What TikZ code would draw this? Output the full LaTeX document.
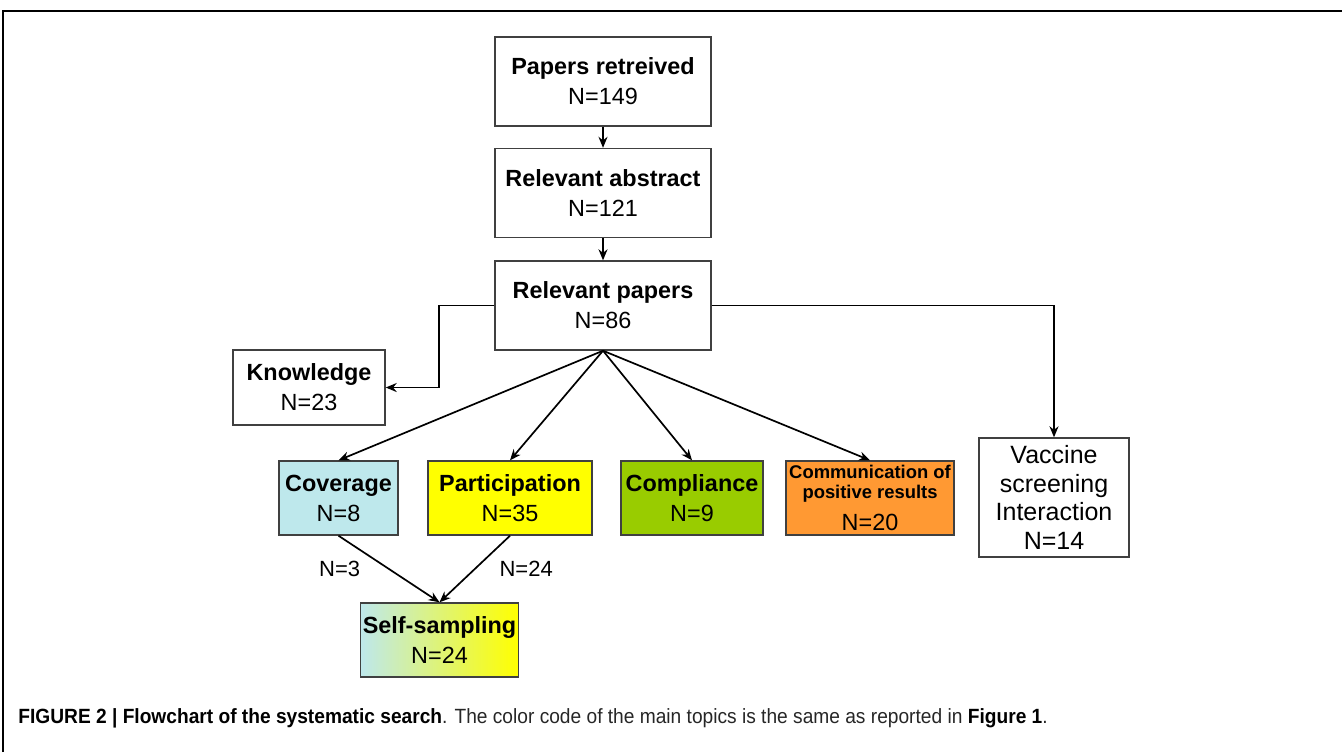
\documentclass[tikz,border=0pt]{standalone}
\usepackage{fontspec}
\setmainfont{Liberation Sans}
\newfontfamily\capfont[FakeStretch=0.93]{Liberation Sans}
\usepackage{xcolor}
\usetikzlibrary{arrows.meta, positioning, calc}
\definecolor{covcol}{RGB}{190,232,236}
\definecolor{parcol}{RGB}{255,255,0}
\definecolor{comcol}{RGB}{153,204,0}
\definecolor{poscol}{RGB}{255,153,51}
\tikzset{
  box/.style  = {rectangle, draw=black!75, line width=0.7pt, fill=white,
                 align=center, inner sep=1pt,
                 font=\fontsize{11.7}{15}\selectfont},
  arr/.style  = {-{Stealth[length=5.5pt,width=4.5pt]}, line width=0.85pt, draw=black},
  lbl/.style  = {font=\fontsize{11}{13}\selectfont, inner sep=2pt},
}
\begin{document}
\begin{tikzpicture}[x=0.5pt, y=-0.5pt]
  \useasboundingbox (0,0) rectangle (1342,752);
  % frame
  \draw[line width=0.8pt] (3,752) -- (3,11) -- (1342,11);

  % main chain
  \node[box, minimum width=108pt, minimum height=44.5pt]
        (retr) at (603,81.5) {\textbf{Papers retreived}\\N=149};
  \node[box, minimum width=108pt, minimum height=44.5pt]
        (abst) at (603,193) {\textbf{Relevant abstract}\\N=121};
  \node[box, minimum width=108pt, minimum height=44.5pt]
        (rpap) at (603,305.5) {\textbf{Relevant papers}\\N=86};

  % topics
  \node[box, minimum width=76pt, minimum height=37.5pt]
        (know) at (309,387.5) {\textbf{Knowledge}\\N=23};
  \node[box, fill=covcol, minimum width=59.5pt, minimum height=37pt]
        (cov) at (338.5,498) {\textbf{Coverage}\\N=8};
  \node[box, fill=parcol, minimum width=82pt, minimum height=37pt]
        (part) at (510,498) {\textbf{Participation}\\N=35};
  \node[box, fill=comcol, minimum width=71pt, minimum height=37pt]
        (compl) at (692,498) {\textbf{Compliance}\\N=9};
  \node[box, fill=poscol, minimum width=84pt, minimum height=37pt,
        font=\fontsize{9.2}{10}\selectfont]
        (posr) at (870,498)
        {\textbf{Communication of}\\\textbf{positive results}\\[4.5pt]
         \fontsize{11.7}{13}\selectfont N=20};
  \node[box, minimum width=75pt, minimum height=59.5pt,
        font=\fontsize{12.5}{14.3}\selectfont]
        (vacc) at (1054,497.5) {Vaccine\\screening\\Interaction\\N=14};
  \node[box, left color=covcol, right color=parcol,
        minimum width=78.5pt, minimum height=37pt]
        (ssamp) at (439.5,640) {\textbf{Self-sampling}\\N=24};

  % arrows
  \draw[arr] (retr) -- (abst);
  \draw[arr] (abst) -- (rpap);
  \draw[arr] (rpap.west) -- ++(-55,0) |- (know.east);
  \draw[arr] (rpap.east) -| (vacc.north);
  \draw[arr] (rpap.south) -- (cov.north);
  \draw[arr] (rpap.south) -- (part.north);
  \draw[arr] (rpap.south) -- (compl.north);
  \draw[arr] (rpap.south) -- (posr.north);
  \draw[arr] (cov.south) -- (ssamp.north)
        node[midway, left, lbl, xshift=-12pt] {N=3};
  \draw[arr] (part.south) -- (ssamp.north)
        node[midway, right, lbl, xshift=10pt] {N=24};

  % caption
  \node[anchor=west, inner sep=0pt, text=black!85,
        font=\capfont\fontsize{10.3}{12}\selectfont]
        (cap) at (18,718)
        {\textcolor{black}{\textbf{FIGURE 2 | Flowchart of the systematic search}}.
         The color code of the main topics is the same as reported in
         \textcolor{black}{\textbf{Figure 1}}.};
\end{tikzpicture}
\end{document}
